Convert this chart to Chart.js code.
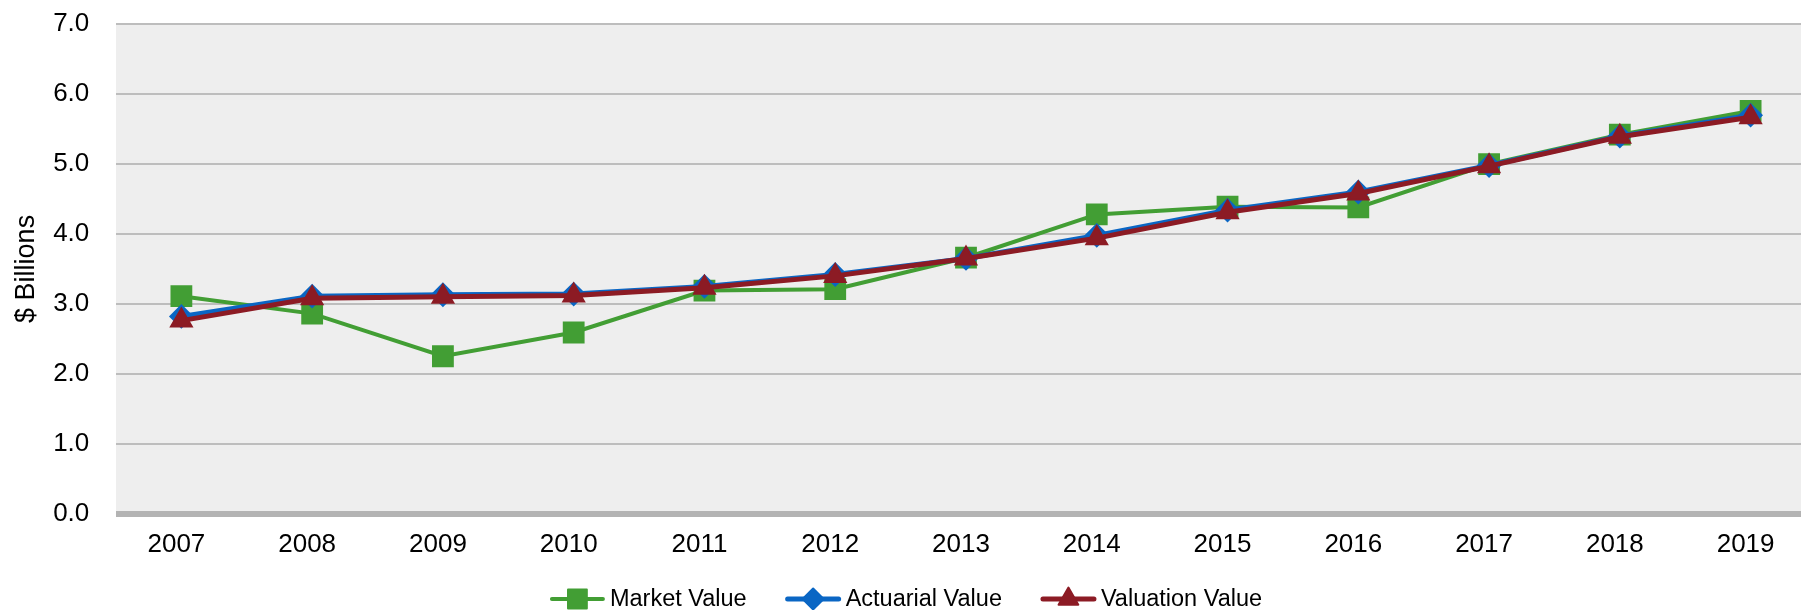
<!DOCTYPE html>
<html>
<head>
<meta charset="utf-8">
<script src="https://cdn.jsdelivr.net/npm/chart.js@4/dist/chart.umd.min.js"></script>
<style>
  body { margin: 0; background: #fff; overflow: hidden; }
  #wrap { width: 1816px; height: 610px; }
</style>
</head>
<body>
<div id="wrap"><canvas id="valueChart"></canvas></div>
<script>
var years = ['2007', '2008', '2009', '2010', '2011', '2012', '2013', '2014', '2015', '2016', '2017', '2018', '2019'];
var marketValue = [3.11, 2.86, 2.25, 2.59, 3.19, 3.21, 3.66, 4.28, 4.39, 4.38, 5.00, 5.42, 5.76];
var actuarialValue = [2.82, 3.11, 3.13, 3.14, 3.25, 3.42, 3.65, 3.98, 4.34, 4.60, 4.98, 5.40, 5.70];
var valuationValue = [2.76, 3.08, 3.10, 3.12, 3.23, 3.40, 3.65, 3.94, 4.31, 4.58, 4.97, 5.39, 5.67];
var yTicks = [0, 1, 2, 3, 4, 5, 6, 7];

var FONT = '"Liberation Sans", Arial, sans-serif';
var GREEN = '#429E34';
var BLUE = '#0A66C4';
var RED = '#8C1B24';

var plotBackground = {
    id: 'plotBackground',
    beforeDraw: function (chart) {
        var a = chart.chartArea;
        var ctx = chart.ctx;
        ctx.save();
        ctx.fillStyle = '#EEEEEE';
        ctx.fillRect(a.left, a.top, a.right - a.left, a.bottom - a.top);
        ctx.restore();
    }
};

// legend under the axis: line + marker, then label
var bottomLegend = {
    id: 'bottomLegend',
    afterDraw: function (chart) {
        var ctx = chart.ctx;
        var iconW = 55, gapText = 5, gapItem = 39;
        var y = 599;
        ctx.save();
        ctx.font = '23.5px ' + FONT;
        var sets = chart.data.datasets;
        var total = 0;
        sets.forEach(function (ds, i) {
            total += iconW + gapText + ctx.measureText(ds.label).width;
            if (i < sets.length - 1) total += gapItem;
        });
        var x = 906 - total / 2;
        sets.forEach(function (ds) {
            ctx.strokeStyle = ds.borderColor;
            ctx.fillStyle = ds.borderColor;
            ctx.lineWidth = ds.borderWidth;
            ctx.lineCap = 'round';
            ctx.beginPath();
            ctx.moveTo(x + 2, y);
            ctx.lineTo(x + iconW - 2, y);
            ctx.stroke();
            ctx.lineWidth = 2;
            ctx.lineJoin = 'round';
            Chart.helpers.drawPoint(ctx, {
                pointStyle: ds.pointStyle,
                radius: ds.pointRadius * 0.95,
                borderWidth: 2,
                rotation: 0
            }, x + iconW / 2, y);
            ctx.fill();
            ctx.fillStyle = '#000';
            ctx.textBaseline = 'middle';
            ctx.textAlign = 'left';
            ctx.fillText(ds.label, x + iconW + gapText, y + 1);
            x += iconW + gapText + ctx.measureText(ds.label).width + gapItem;
        });
        ctx.restore();
    }
};

var ctx = document.getElementById('valueChart');
var myChart = new Chart(ctx, {
    type: 'line',
    data: {
        labels: years,
        datasets: [
            {
                label: 'Market Value',
                data: marketValue,
                order: 3,
                borderColor: GREEN,
                backgroundColor: GREEN,
                borderWidth: 4,
                pointStyle: 'rect',
                pointRadius: 14,
                pointBorderWidth: 2,
                pointBorderColor: GREEN,
                pointBackgroundColor: GREEN,
                tension: 0
            },
            {
                label: 'Actuarial Value',
                data: actuarialValue,
                order: 2,
                borderColor: BLUE,
                backgroundColor: BLUE,
                borderWidth: 5,
                pointStyle: 'rectRot',
                pointRadius: 11,
                pointBorderWidth: 2,
                pointBorderColor: BLUE,
                pointBackgroundColor: BLUE,
                tension: 0
            },
            {
                label: 'Valuation Value',
                data: valuationValue,
                order: 1,
                borderColor: RED,
                backgroundColor: RED,
                borderWidth: 5,
                pointStyle: 'triangle',
                pointRadius: 12,
                pointBorderWidth: 2,
                pointBorderColor: RED,
                pointBackgroundColor: RED,
                tension: 0
            }
        ]
    },
    options: {
        responsive: true,
        maintainAspectRatio: false,
        animation: false,
        layout: {
            autoPadding: false,
            padding: { top: 6.7, left: 0, right: 0, bottom: 33.3 }
        },
        plugins: {
            tooltip: { enabled: false },
            legend: { display: false }
        },
        scales: {
            x: {
                offset: true,
                grid: { display: false, drawTicks: false },
                border: { display: false },
                ticks: {
                    color: '#000',
                    padding: 16,
                    labelOffset: -5,
                    maxRotation: 0,
                    font: { family: FONT, size: 26 }
                }
            },
            y: {
                min: 0,
                max: 7,
                afterBuildTicks: function (scale) {
                    scale.ticks = yTicks.map(function (v) { return { value: v }; });
                },
                afterFit: function (scale) {
                    scale.width = 116;
                },
                grid: {
                    drawTicks: true,
                    tickLength: 18,
                    tickColor: 'rgba(0,0,0,0)',
                    color: function (c) { return c.tick && c.tick.value === 0 ? '#B3B3B3' : '#BDBDBD'; },
                    lineWidth: function (c) { return c.tick && c.tick.value === 0 ? 6 : 2; }
                },
                border: { display: false },
                ticks: {
                    color: '#000',
                    padding: 8.7,
                    font: { family: FONT, size: 26 },
                    callback: function (v) { return Number(v).toFixed(1); }
                },
                title: {
                    display: true,
                    text: '$ Billions',
                    color: '#000',
                    padding: { top: 10, bottom: 0 },
                    font: { family: FONT, size: 27 }
                }
            }
        }
    },
    plugins: [plotBackground, bottomLegend]
});
</script>
</body>
</html>
